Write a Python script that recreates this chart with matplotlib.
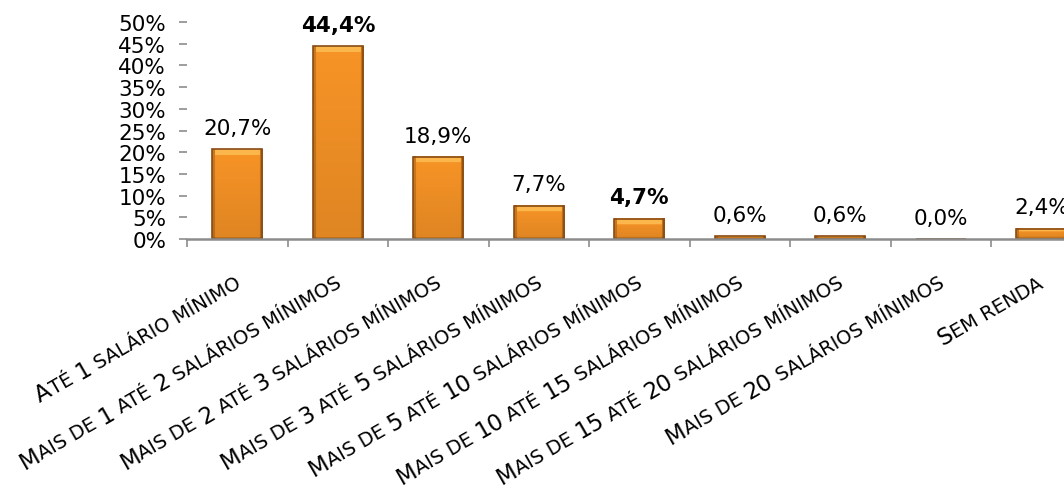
import numpy as np
import matplotlib
matplotlib.use("Agg")
import matplotlib.pyplot as plt
from matplotlib import font_manager, ft2font
from matplotlib.font_manager import FontProperties
from matplotlib.ticker import PercentFormatter, FixedLocator
from matplotlib.transforms import offset_copy

categories = [
    "Até 1 salário mínimo",
    "Mais de 1 até 2 salários mínimos",
    "Mais de 2 até 3 salários mínimos",
    "Mais de 3 até 5 salários mínimos",
    "Mais de 5 até 10 salários mínimos",
    "Mais de 10 até 15 salários mínimos",
    "Mais de 15 até 20 salários mínimos",
    "Mais de 20 salários mínimos",
    "Sem renda",
]
shares = [0.207, 0.444, 0.189, 0.077, 0.047, 0.006, 0.006, 0.000, 0.024]
bold_labels = [False, True, False, False, True, False, False, False, False]

FONT = "DejaVu Sans"
BAR_WIDTH = 0.5
LABEL_ANGLE = 30
BIG_PT = 16.5
SMALL_PT = 14.0

fig = plt.figure(figsize=(10.64, 4.89), dpi=100)
# plot area runs past the right border, so the last bar is cut off
ax = fig.add_axes([187 / 1064, 249 / 489, 904.5 / 1064, 217 / 489])

x = np.arange(len(shares))


def bar_texture(h_px, w_px):
    base = np.array([0.97, 0.58, 0.15])
    img = np.tile(base, (h_px, w_px, 1))
    t = np.linspace(0, 1, h_px)[:, None, None]
    img = img * (1 - 0.10 * t)
    # darker side rims
    img[:, :3] *= 0.82
    img[:, -3:] *= 0.78
    # lighter bevel along the top
    bev = max(1, min(6, h_px // 3))
    img[:bev, 3:-3] = np.array([0.99, 0.72, 0.30])
    img[:1, 3:-3] = np.array([1.0, 0.80, 0.42])
    img[-2:] *= 0.85
    return np.clip(img, 0, 1)


bars = ax.bar(x, shares, width=BAR_WIDTH, facecolor="none",
              edgecolor="#8a4a12", linewidth=1.2, zorder=3)
for rect, v in zip(bars, shares):
    if v <= 0:
        continue
    h_px = max(2, int(round(v / 0.5 * 217)))
    ax.imshow(bar_texture(h_px, 50),
              extent=(rect.get_x(), rect.get_x() + rect.get_width(), 0, v),
              aspect="auto", interpolation="bilinear", zorder=2)
ax.set_xlim(-0.5, len(shares) - 0.5)
ax.set_ylim(0, 0.5)
ax.set_aspect("auto")

# value labels
for xi, v, b in zip(x, shares, bold_labels):
    ax.annotate(f"{v * 100:.1f}%".replace(".", ","), (xi, v),
                xytext=(0, 11), textcoords="offset points",
                ha="center", va="baseline", fontsize=15.5,
                fontweight="bold" if b else "normal",
                family=FONT, color="black", annotation_clip=False)

# axes styling
for side in ["top", "right", "left"]:
    ax.spines[side].set_visible(False)
ax.spines["bottom"].set_color("#8c8c8c")
ax.spines["bottom"].set_linewidth(1.8)
ax.spines["bottom"].set_zorder(4)

ax.yaxis.set_major_locator(FixedLocator(np.arange(0, 0.501, 0.05)))
ax.yaxis.set_major_formatter(PercentFormatter(xmax=1, decimals=0))
ax.tick_params(axis="y", length=6, width=1.2, color="#8c8c8c",
               labelsize=15.5, pad=9)
for lab in ax.get_yticklabels():
    lab.set_family(FONT)

ax.set_xticks([])
ax.xaxis.set_minor_locator(FixedLocator(np.arange(-0.5, len(shares), 1)))
ax.tick_params(axis="x", which="minor", length=6, width=1.2,
               color="#8c8c8c", direction="out")


# category labels in small caps, drawn run by run along a slanted baseline
def advance_pt(text, size):
    font = ft2font.FT2Font(font_manager.findfont(FontProperties(family=FONT)))
    font.set_size(size, 72)
    total = 0.0
    for ch in text:
        g = font.load_char(ord(ch))
        total += g.linearHoriAdvance / 65536
    return total


def split_runs(label):
    runs = []
    for ch in label:
        big = ch.isupper() or ch.isdigit()
        if runs and runs[-1][1] == big:
            runs[-1][0] += ch
        else:
            runs.append([ch, big])
    return [(s.upper(), BIG_PT if big else SMALL_PT) for s, big in runs]


cos_a = np.cos(np.radians(LABEL_ANGLE))
sin_a = np.sin(np.radians(LABEL_ANGLE))
end_dx, end_dy = 4 * 0.72, -47 * 0.72

for xi, label in zip(x, categories):
    runs = split_runs(label)
    widths = [advance_pt(s, size) for s, size in runs]
    pos = -sum(widths)
    for (s, size), w in zip(runs, widths):
        tr = offset_copy(ax.get_xaxis_transform(), fig=fig,
                         x=end_dx + pos * cos_a, y=end_dy + pos * sin_a,
                         units="points")
        ax.text(xi, 0, s, transform=tr, rotation=LABEL_ANGLE,
                rotation_mode="anchor", ha="left", va="baseline",
                fontsize=size, family=FONT, color="black", clip_on=False)
        pos += w

fig.savefig("out.png", dpi=100)
